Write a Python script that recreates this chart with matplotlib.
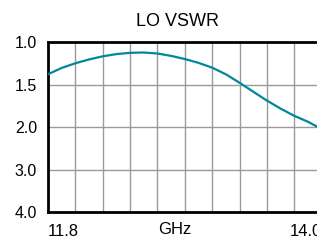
import numpy as np
import matplotlib.pyplot as plt

plt.rcParams['font.family'] = ['Liberation Sans', 'DejaVu Sans']

freq_ghz = [11.80, 11.91, 12.02, 12.13, 12.24, 12.35, 12.46, 12.57, 12.68,
            12.79, 12.90, 13.01, 13.12, 13.23, 13.34, 13.45, 13.56, 13.67,
            13.78, 13.89, 13.96]
vswr = [1.375, 1.300, 1.245, 1.200, 1.163, 1.137, 1.122, 1.118, 1.130,
        1.158, 1.195, 1.240, 1.297, 1.375, 1.475, 1.580, 1.685, 1.780,
        1.865, 1.935, 1.990]

y_ticks = [1.0, 1.5, 2.0, 3.0, 4.0]
y_labels = ['1.0', '1.5', '2.0', '3.0', '4.0']
x_ticks = [11.8, 14.0]
x_labels = ['11.8', '14.0']

# the chart's VSWR axis is spaced evenly per labelled value
tick_pos = np.arange(len(y_ticks))


def to_pos(v):
    return np.interp(v, y_ticks, tick_pos)


fig = plt.figure(figsize=(3.17, 2.40), dpi=100)
ax = fig.add_axes([48 / 317, 1 - 212 / 240, 273.6 / 317, (212 - 42.5) / 240])

ax.plot(freq_ghz, to_pos(vswr), color='#00879A', lw=1.6, zorder=3,
        solid_joinstyle='round')

ax.set_xlim(11.8, 14.0)
ax.set_ylim(tick_pos[-1], tick_pos[0])

ax.set_xticks(np.linspace(11.8, 14.0, 11), minor=True)
ax.set_xticks(x_ticks)
ax.set_xticklabels(x_labels, fontsize=12)
for lab, ha in zip(ax.get_xticklabels(), ['left', 'right']):
    lab.set_horizontalalignment(ha)
ax.set_yticks(tick_pos)
ax.set_yticklabels(y_labels, fontsize=11.5)
ax.tick_params(which='both', length=0)
ax.tick_params(axis='y', pad=8)
ax.tick_params(axis='x', pad=9)

ax.grid(True, which='minor', axis='x', color='#9a9a9a', lw=1)
ax.grid(True, which='major', axis='y', color='#9a9a9a', lw=1)
ax.set_axisbelow(True)

for s in ax.spines.values():
    s.set_linewidth(2)
    s.set_color('black')
ax.spines['right'].set_visible(False)

fig.text(175 / 317, 1 - 229 / 240, 'GHz', ha='center', va='center', fontsize=12)
fig.text(178 / 317, 1 - 22 / 240, 'LO VSWR', ha='center', va='center', fontsize=13)

fig.savefig('out.png', dpi=100)
